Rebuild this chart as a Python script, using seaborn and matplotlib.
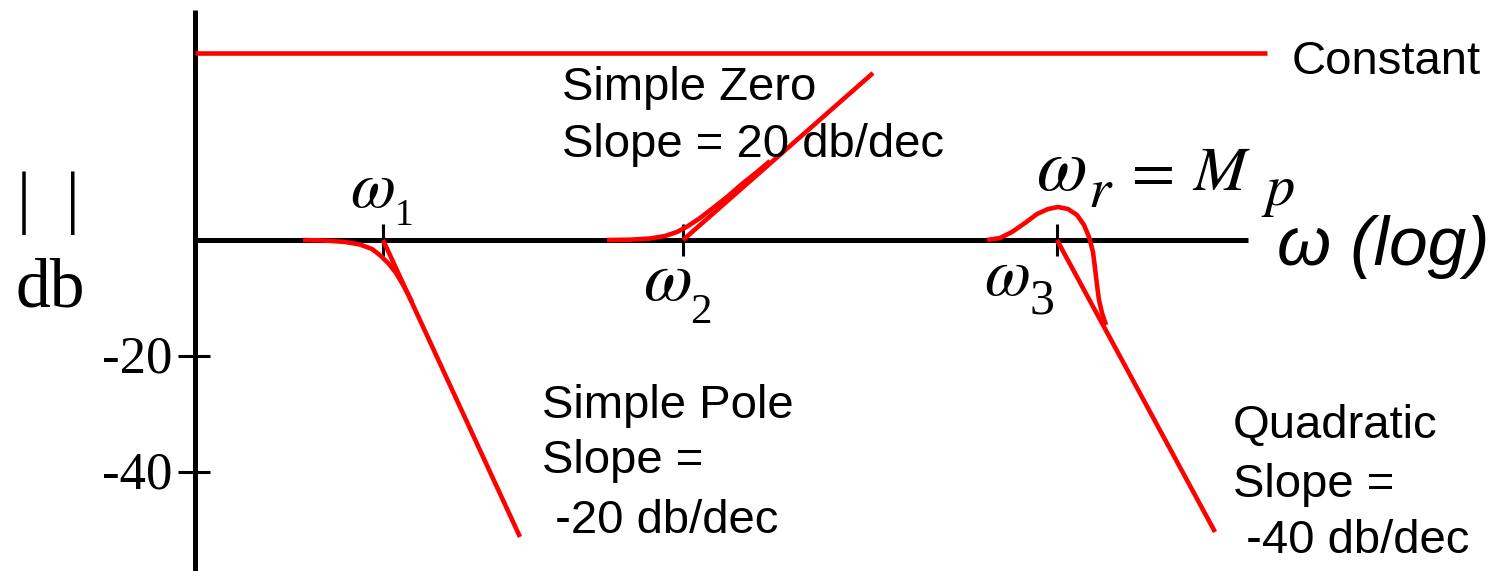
import numpy as np
import pandas as pd
import seaborn as sns
import matplotlib.pyplot as plt

sns.set_style("white")
plt.rcParams["mathtext.fontset"] = "stix"
plt.rcParams["lines.solid_capstyle"] = "butt"
plt.rcParams["text.color"] = "black"

# x: log-frequency position (arbitrary units from the vertical axis), y: magnitude in dB
corner_freqs = [1.88, 4.88, 8.62]
db_ticks = [-20, -40]
db_tick_labels = ["-20", "-40"]

constant_x = [0.0, 10.72]
constant_db = [32.24, 32.24]

pole_asym_x = [1.88, 3.25]
pole_asym_db = [0.0, -51.2]
pole_x = [1.08, 1.30, 1.50, 1.65, 1.77, 1.86, 1.94, 2.01, 2.07, 2.13, 2.17]
pole_db = [0.0, -0.09, -0.34, -0.78, -1.55, -2.76, -4.14, -5.69, -7.41, -9.31, -10.69]

zero_asym_x = [4.88, 6.78]
zero_asym_db = [0.0, 28.79]
zero_x = [4.12, 4.35, 4.55, 4.70, 4.82, 4.93, 5.05, 5.18, 5.32, 5.47, 5.62, 5.75]
zero_db = [0.0, 0.05, 0.26, 0.69, 1.38, 2.41, 3.79, 5.52, 7.41, 9.66, 11.72, 13.62]

quad_asym_x = [8.62, 10.20]
quad_asym_db = [0.0, -50.34]
quad_x = [7.92, 8.05, 8.17, 8.30, 8.42, 8.53, 8.63, 8.73, 8.82, 8.89, 8.94,
          8.98, 9.00, 9.02, 9.04, 9.07, 9.11]
quad_db = [0.0, 0.34, 1.38, 2.93, 4.48, 5.34, 5.69, 5.34, 4.31, 2.59, 0.52,
           -2.07, -4.83, -7.76, -10.34, -12.59, -14.66]

fig = plt.figure(figsize=(14.92, 5.71), dpi=100)
ax = fig.add_axes([0, 0, 1, 1])
ax.set_xlim(-1.95, 12.97)
ax.set_ylim(-57.07, 41.38)
ax.axis("off")

# axes of the sketch
ax.plot([0, 0], [-57.07, 39.66], color="black", lw=3.6)
ax.plot([0, 10.53], [0, 0], color="black", lw=3.6)
for f in corner_freqs:
    ax.plot([f, f], [2.76, -2.76], color="black", lw=2.2)
for t, lab in zip(db_ticks, db_tick_labels):
    ax.plot([-0.17, 0.15], [t, t], color="black", lw=2.2)
    ax.text(-0.23, t - 2.8, lab, ha="right", va="baseline",
            fontsize=38, family="Liberation Serif")

red_lines = [
    (constant_x, constant_db),
    (pole_asym_x, pole_asym_db), (pole_x, pole_db),
    (zero_asym_x, zero_asym_db), (zero_x, zero_db),
    (quad_asym_x, quad_asym_db), (quad_x, quad_db),
]
for xs, ys in red_lines:
    df = pd.DataFrame({"x": xs, "y": ys})
    sns.lineplot(data=df, x="x", y="y", sort=False, estimator=None,
                 color="#ff0000", lw=3.3, ax=ax)

sans = dict(fontsize=34, family="Liberation Sans", va="baseline", ha="left")
ax.text(10.97, 28.62, "Constant", **sans)
ax.text(3.67, 24.14, "Simple Zero", **sans)
ax.text(3.67, 14.31, "Slope = 20 db/dec", **sans)
ax.text(3.47, -30.69, "Simple Pole", **sans)
ax.text(3.47, -40.17, "Slope =", **sans)
ax.text(3.47, -50.52, " -20 db/dec", **sans)
ax.text(10.38, -34.14, "Quadratic", **sans)
ax.text(10.38, -44.31, "Slope =", **sans)
ax.text(10.38, -53.97, " -40 db/dec", **sans)
ax.text(10.82, -4.31, "ω (log)", fontsize=50, family="Liberation Sans",
        style="italic", va="baseline", ha="left")

serif = dict(family="Liberation Serif", va="baseline", ha="left")
math = dict(va="baseline", ha="left")
# corner frequency labels
ax.text(1.55, 5.69, r"$\omega$", fontsize=47, **math)
ax.text(2.00, 2.59, "1", fontsize=27, **serif)
ax.text(4.48, -10.34, r"$\omega$", fontsize=51, **math)
ax.text(4.95, -14.31, "2", fontsize=31, **serif)
ax.text(7.89, -9.48, r"$\omega$", fontsize=48, **math)
ax.text(8.35, -12.59, "3", fontsize=36, **serif)
# resonance label
ax.text(8.41, 8.62, r"$\omega$", fontsize=53, **math)
ax.text(8.93, 5.69, r"$r$", fontsize=41, **math)
ax.text(9.27, 8.62, r"$=$", fontsize=45, **math)
ax.text(9.97, 8.62, r"$M$", fontsize=46, **math)
ax.text(10.66, 6.03, r"$p$", fontsize=42, **math)

ax.text(-1.78, 3.45, "|  |", fontsize=50, **serif)
ax.text(-1.80, -11.38, "db", fontsize=50, **serif)

fig.savefig("out.png", dpi=100)
